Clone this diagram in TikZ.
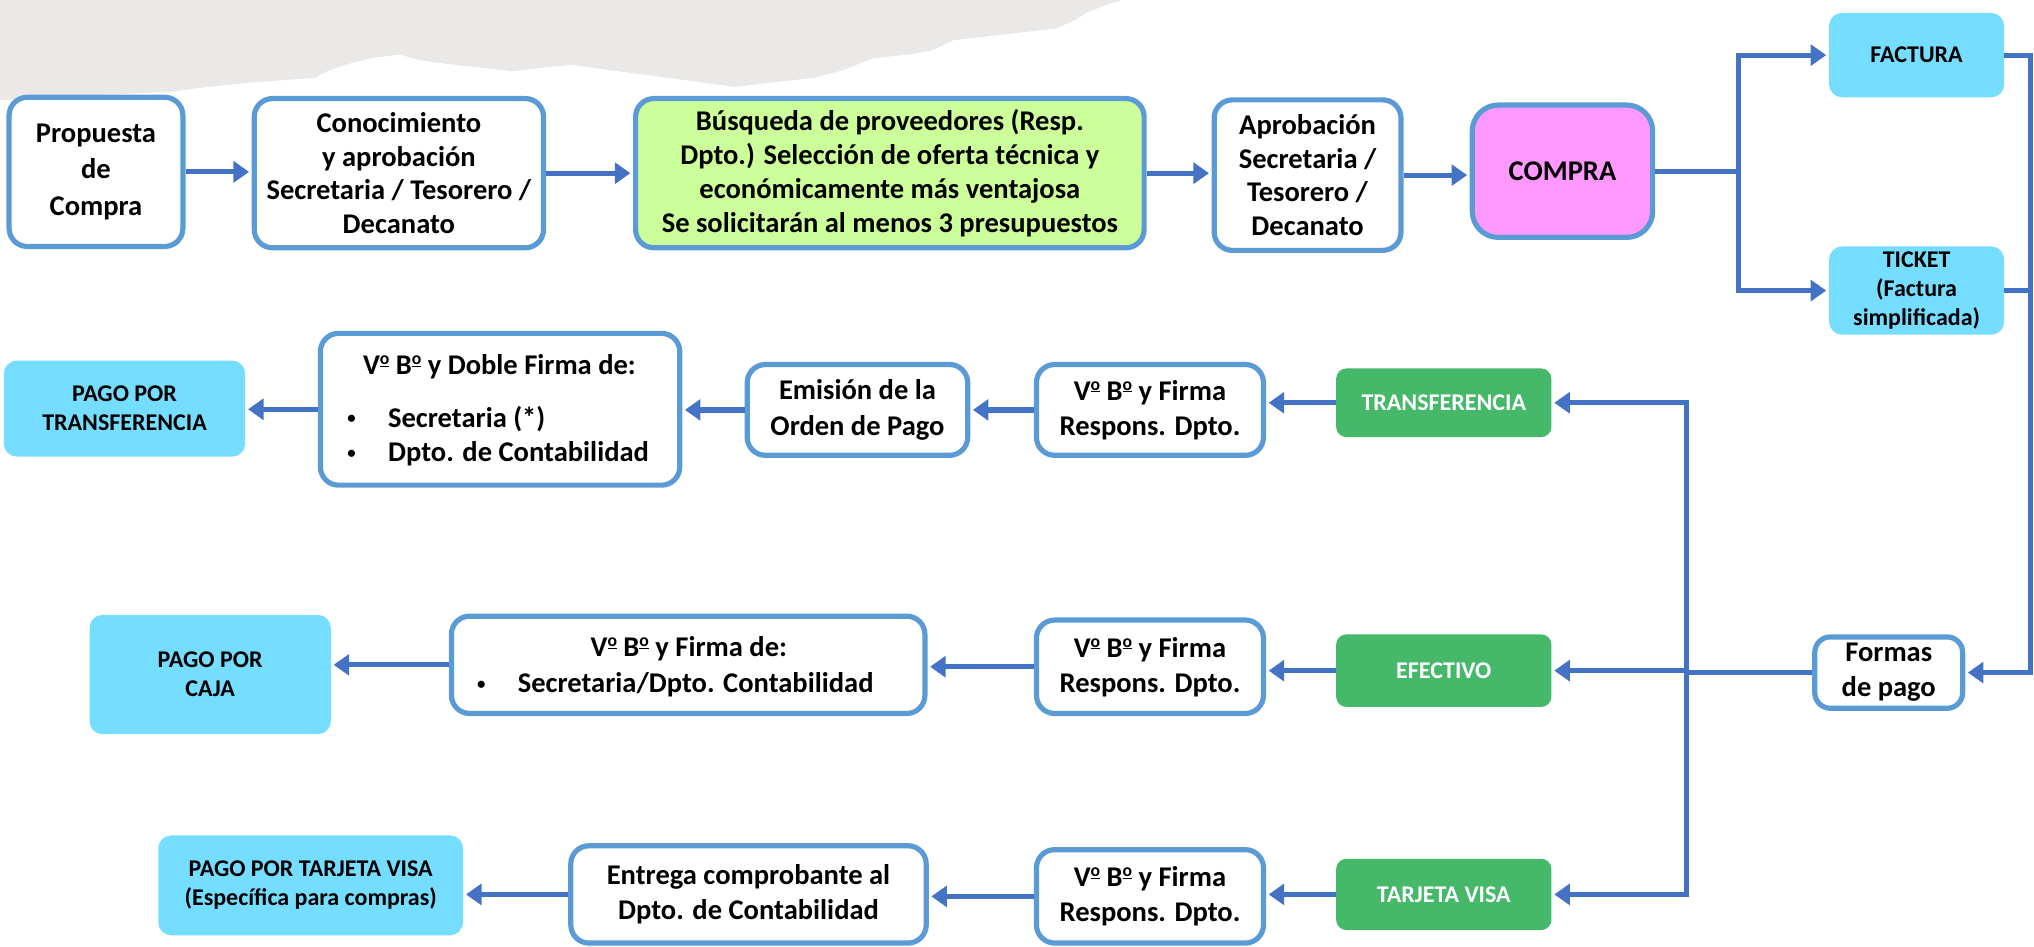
\documentclass[tikz,border=0pt]{standalone}
\usepackage{fontspec}
\usepackage{graphicx}
\setmainfont{Carlito}
\usetikzlibrary{arrows.meta}
\definecolor{bord}{HTML}{5B9BD5}
\definecolor{arr}{HTML}{4472C4}
\definecolor{cyanb}{HTML}{75DDFF}
\definecolor{lgreen}{HTML}{CCFF99}
\definecolor{pinkb}{HTML}{FF99FF}
\definecolor{gbox}{HTML}{45B969}
\definecolor{grayt}{HTML}{EAE9E7}
\newcommand\ordo{\raisebox{0.72ex}{\scalebox{0.62}{\underline{o}}}}
\newcommand\smallbul{{\fontsize{13}{13}\selectfont •}}
\begin{document}
\begin{tikzpicture}[x=1pt,y=-1pt,
  box/.style={draw=bord, line width=4pt, fill=white, rounded corners=14pt, align=center,
    font=\fontsize{22}{26}\selectfont\bfseries, inner sep=0pt},
  lbox/.style={box, font=\fontsize{22}{27}\selectfont\bfseries},
  cbox/.style={fill=cyanb, rounded corners=10pt, align=center,
    font=\fontsize{18.5}{22.5}\selectfont\bfseries, inner sep=0pt},
  gbx/.style={fill=gbox, rounded corners=8pt, align=center, text=white,
    font=\fontsize{18.5}{22}\selectfont\bfseries, inner sep=0pt},
  txt/.style={font=\fontsize{22}{27}\selectfont\bfseries, inner sep=0pt},
  conn/.style={draw=arr, line width=4pt},
  arrow/.style={conn, -{Triangle[length=12pt,width=16pt]}, shorten >=2pt},
]
\useasboundingbox (0,0) rectangle (1568,730);
% torn gray paper
\fill[grayt] (0,0) -- (0,77) -- (40,76) -- (80,73) -- (130,71) -- (160,67) -- (190,64) -- (215,62) -- (243,60)
  -- (252,55) -- (266,50) -- (285,45) -- (308,42) -- (322,46) -- (334,48) -- (360,51) -- (396,55)
  -- (420,52) -- (441,50) -- (469,54) -- (500,58) -- (530,62) -- (566,67) -- (600,63) -- (628,60)
  -- (650,54) -- (673,45) -- (700,42) -- (718,39) -- (735,31) -- (770,27) -- (814,22) -- (830,15)
  -- (837,10) -- (855,3) -- (865,0) -- cycle;

% top row
\node[box, font=\fontsize{22}{28}\selectfont\bfseries, minimum width=134pt, minimum height=115pt] (prop) at (74,132.5) {Propuesta\\de\\Compra};
\node[box, minimum width=223pt, minimum height=115pt] (conoc) at (307.5,133.5) {Conocimiento\\y aprobación\\Secretaria / Tesorero /\\Decanato};
\node[box, fill=lgreen, minimum width=392pt, minimum height=115pt] (busq) at (686,133.5) {Búsqueda de proveedores (Resp.\\Dpto.) Selección de oferta técnica y\\económicamente más ventajosa\\Se solicitarán al menos 3 presupuestos};
\node[box, minimum width=144pt, minimum height=116pt] (aprob) at (1008,135) {Aprobación\\Secretaria /\\Tesorero /\\Decanato};
\node[box, fill=pinkb, rounded corners=20pt, minimum width=139pt, minimum height=102pt] (compra) at (1204.5,132) {COMPRA};
\node[cbox, minimum width=135pt, minimum height=65pt] (factura) at (1477.5,42.5) {FACTURA};
\node[cbox, minimum width=135pt, minimum height=68pt] (ticket) at (1477.5,224) {TICKET\\(Factura\\simplificada)};

% payment forms
\node[lbox, rounded corners=12pt, minimum width=114pt, minimum height=55pt] (formas) at (1456,518.5) {Formas\\de pago};
\node[gbx, minimum width=166pt, minimum height=53pt] (transf) at (1113,310.5) {TRANSFERENCIA};
\node[gbx, minimum width=166pt, minimum height=56pt] (efect) at (1113,517) {EFECTIVO};
\node[gbx, minimum width=166pt, minimum height=55pt] (tarj) at (1113,689.5) {TARJETA VISA};

% row transferencia
\node[lbox, minimum width=175pt, minimum height=70pt] (vb1) at (886.5,316) {V\ordo{} B\ordo{} y Firma\\Respons. Dpto.};
\node[lbox, minimum width=170pt, minimum height=70pt] (emis) at (661,316) {Emisión de la\\Orden de Pago};
\node[lbox, minimum width=277pt, minimum height=117pt] (doble) at (385.5,315.5) {};
\node[txt] (dobleT) at (385,283) {V\ordo{} B\ordo{} y Doble Firma de:};
\node[txt] (dobleB1) at (271,323) {\smallbul};
\node[txt, anchor=west] (dobleL1) at (299,323) {Secretaria (*)};
\node[txt] (dobleB2) at (271,350) {\smallbul};
\node[txt, anchor=west] (dobleL2) at (299,350) {Dpto. de Contabilidad};
\node[cbox, minimum width=186pt, minimum height=74pt] (ptransf) at (96,315) {PAGO POR\\TRANSFERENCIA};

% row efectivo
\node[lbox, minimum width=175pt, minimum height=72pt] (vb2) at (886.5,514) {V\ordo{} B\ordo{} y Firma\\Respons. Dpto.};
\node[lbox, minimum width=365pt, minimum height=75pt] (vbf) at (530.5,512.5) {};
\node[txt] (vbfT) at (531,500) {V\ordo{} B\ordo{} y Firma de:};
\node[txt] (vbfB) at (371,528) {\smallbul};
\node[txt, anchor=west] (vbfL) at (399,528) {Secretaria/Dpto. Contabilidad};
\node[cbox, minimum width=186pt, minimum height=92pt] (pcaja) at (162,520) {PAGO POR\\CAJA};

% row tarjeta
\node[lbox, minimum width=175pt, minimum height=72pt] (vb3) at (886.5,691) {V\ordo{} B\ordo{} y Firma\\Respons. Dpto.};
\node[lbox, minimum width=274pt, minimum height=75pt] (entr) at (577,689.5) {Entrega comprobante al\\Dpto. de Contabilidad};
\node[cbox, minimum width=235pt, minimum height=77pt] (pvisa) at (239.5,682.5) {PAGO POR TARJETA VISA\\(Específica para compras)};

% helper coordinates
\coordinate (splitx) at (1340,0);
\coordinate (rx) at (1565,0);
\coordinate (lx) at (1300,0);

% top connectors
\draw[arrow] (prop.east) -- (prop.east -| conoc.west);
\draw[arrow] (conoc.east) -- (busq.west);
\draw[arrow] (busq.east) -- (busq.east -| aprob.west);
\draw[arrow] (aprob.east) -- (aprob.east -| compra.west);
\draw[conn] (compra.east) -- (compra.east -| splitx);
\draw[arrow] (compra.east -| splitx) |- (factura.west);
\draw[arrow] (compra.east -| splitx) |- (ticket.west);
\draw[arrow] (factura.east) -- (factura.east -| rx) -- (formas.east -| rx) -- (formas.east);
\draw[conn] (ticket.east) -- (ticket.east -| rx);

% payment split
\draw[conn] (formas.west) -- (formas.west -| lx);
\draw[arrow] (formas.west -| lx) |- (transf.east);
\draw[arrow] (formas.west -| lx) |- (tarj.east);
\draw[arrow] (efect.east -| lx) -- (efect.east);

% rows
\draw[arrow] (transf.west) -- (transf.west -| vb1.east);
\draw[arrow] (vb1.west) -- (emis.east);
\draw[arrow] (emis.west) -- (emis.west -| doble.east);
\draw[arrow] (doble.west) -- (doble.west -| ptransf.east);
\draw[arrow] (efect.west) -- (efect.west -| vb2.east);
\draw[arrow] (vb2.west) -- (vb2.west -| vbf.east);
\draw[arrow] (vbf.west) -- (vbf.west -| pcaja.east);
\draw[arrow] (tarj.west) -- (tarj.west -| vb3.east);
\draw[arrow] (vb3.west) -- (vb3.west -| entr.east);
\draw[arrow] (entr.west) -- (entr.west -| pvisa.east);
\end{tikzpicture}
\end{document}
